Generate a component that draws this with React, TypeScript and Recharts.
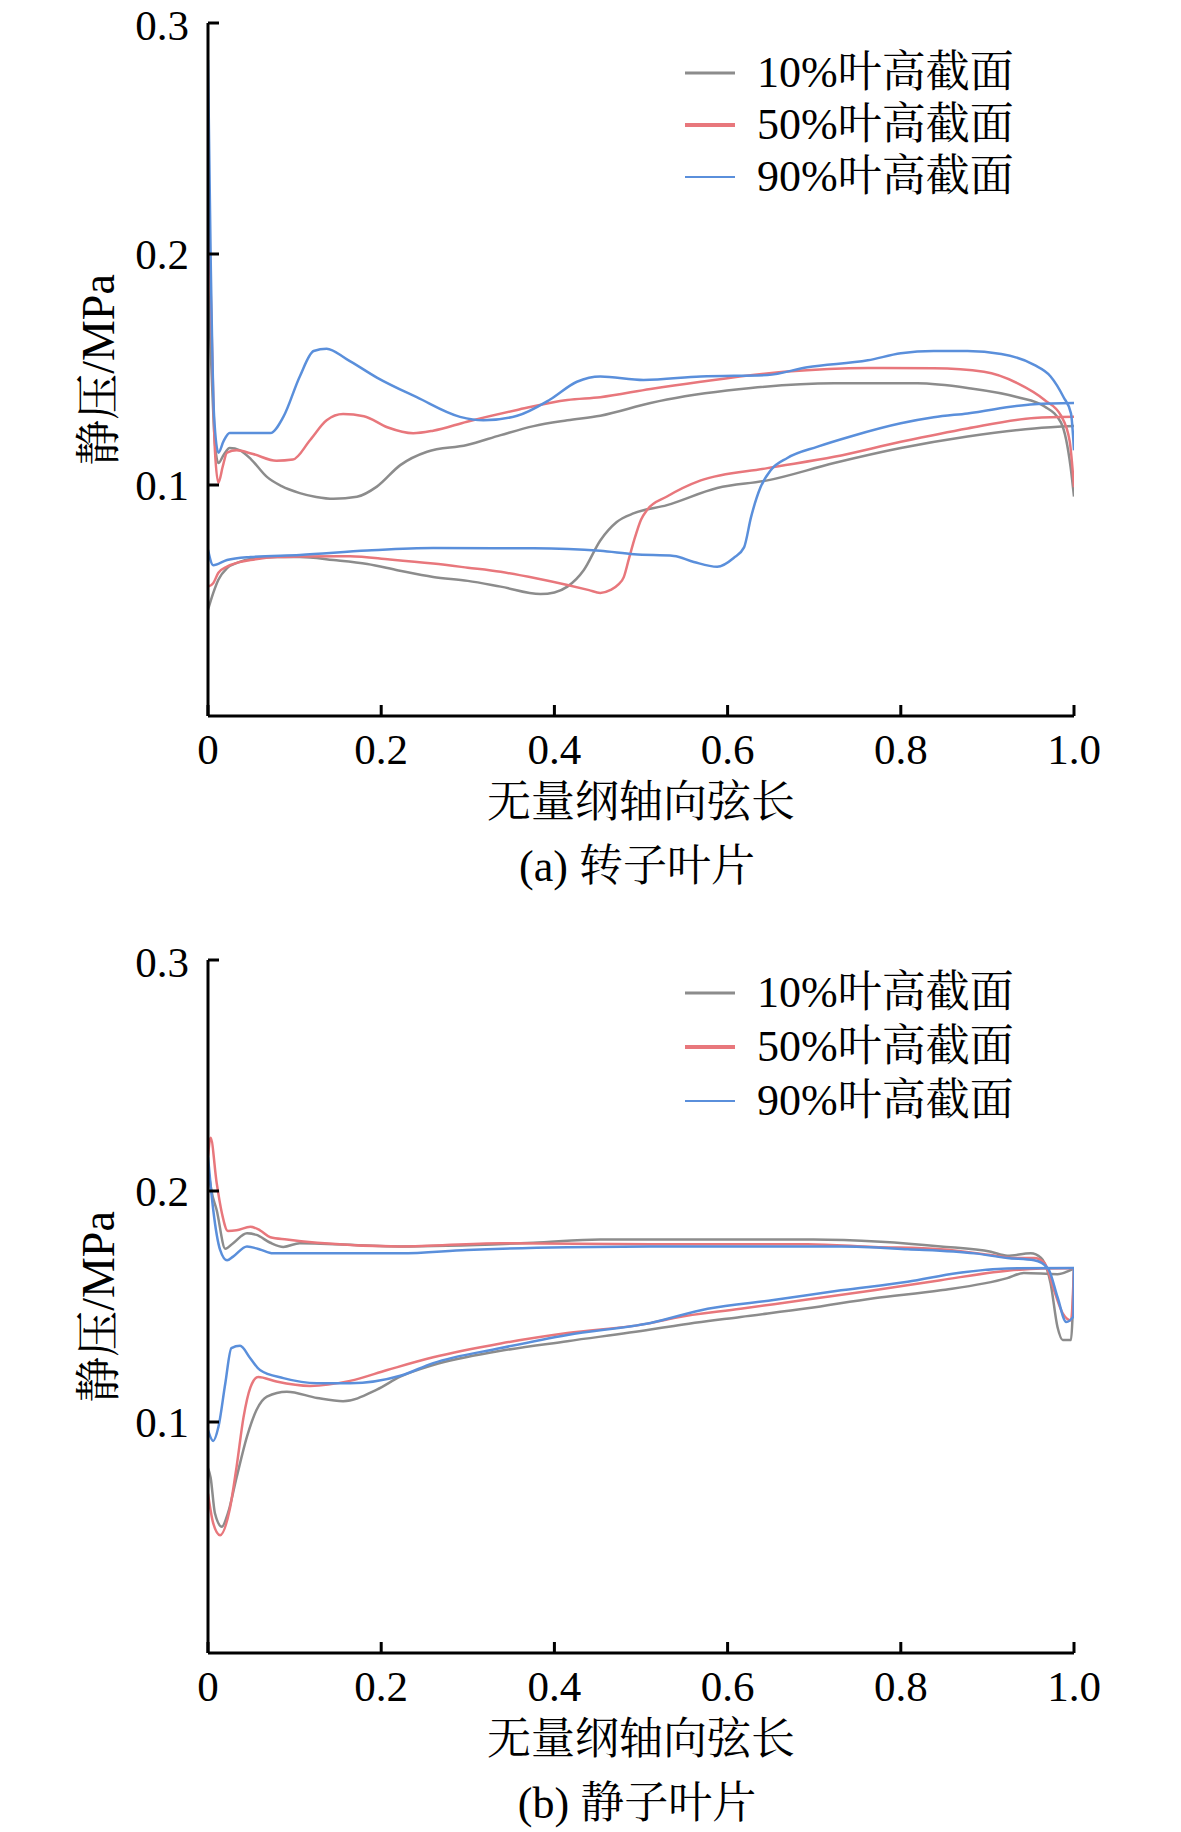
import React from "react";
import { LineChart, Line, XAxis, YAxis, Legend } from "recharts";

type Pt = [number, number];

const X_TICKS = [0, 0.2, 0.4, 0.6, 0.8, 1.0];
const Y_TICKS = [0.1, 0.2, 0.3];
const SERIES_NAMES = ["10%叶高截面", "50%叶高截面", "90%叶高截面"];
const SERIES_COLORS = ["#8c8c8c", "#e8777c", "#5a8fdb"];
const LEGEND_WIDTHS = [3, 4, 2];

// (a) rotor blade, upper / lower branch of each section
const rotor10Upper: Pt[] = [
  [0, 0.19], [0.004, 0.15], [0.008, 0.118], [0.012, 0.1095], [0.018, 0.113], [0.025, 0.116],
  [0.037, 0.115], [0.05, 0.111], [0.068, 0.1035], [0.085, 0.0995], [0.106, 0.0965], [0.125, 0.0948],
  [0.145, 0.094], [0.172, 0.0949], [0.195, 0.0993], [0.222, 0.1086], [0.253, 0.1144], [0.299, 0.1173],
  [0.338, 0.1216], [0.376, 0.1255], [0.415, 0.128], [0.453, 0.13], [0.511, 0.1355], [0.53, 0.137],
  [0.627, 0.142], [0.723, 0.144], [0.819, 0.144], [0.877, 0.142], [0.935, 0.138], [0.966, 0.134],
  [0.985, 0.127], [0.991, 0.1195], [0.996, 0.108], [1.0, 0.095],
];
const rotor10Lower: Pt[] = [
  [0, 0.046], [0.006, 0.0532], [0.012, 0.059], [0.022, 0.064], [0.035, 0.0665], [0.049, 0.068],
  [0.08, 0.0688], [0.106, 0.0688], [0.145, 0.0675], [0.184, 0.0658], [0.22, 0.063], [0.26, 0.0602],
  [0.3, 0.0585], [0.338, 0.056], [0.384, 0.0528], [0.4, 0.0535], [0.415, 0.056], [0.434, 0.0632],
  [0.453, 0.076], [0.472, 0.084], [0.492, 0.0878], [0.53, 0.0913], [0.588, 0.0987], [0.646, 0.102],
  [0.723, 0.1095], [0.8, 0.116], [0.877, 0.121], [0.954, 0.1245], [1.0, 0.1255],
];
const rotor50Upper: Pt[] = [
  [0, 0.232], [0.004, 0.17], [0.008, 0.115], [0.012, 0.101], [0.017, 0.108], [0.022, 0.114],
  [0.033, 0.115], [0.052, 0.1134], [0.079, 0.1105], [0.098, 0.111], [0.118, 0.1195], [0.137, 0.128],
  [0.156, 0.1307], [0.18, 0.1298], [0.207, 0.125], [0.237, 0.1224], [0.26, 0.1235], [0.299, 0.1274],
  [0.357, 0.1325], [0.415, 0.1368], [0.453, 0.138], [0.511, 0.1416], [0.569, 0.1447], [0.665, 0.149],
  [0.762, 0.1507], [0.838, 0.1505], [0.896, 0.149], [0.935, 0.144], [0.966, 0.1368], [0.985, 0.13],
  [0.995, 0.119], [1.0, 0.099],
];
const rotor50Lower: Pt[] = [
  [0, 0.056], [0.006, 0.0575], [0.012, 0.062], [0.022, 0.0647], [0.035, 0.0665], [0.049, 0.0675],
  [0.08, 0.0688], [0.106, 0.069], [0.164, 0.0692], [0.21, 0.0678], [0.26, 0.066], [0.3, 0.0642],
  [0.338, 0.0624], [0.38, 0.0595], [0.415, 0.0567], [0.44, 0.0545], [0.453, 0.0533], [0.465, 0.0546],
  [0.474, 0.057], [0.48, 0.06], [0.486, 0.068], [0.492, 0.076], [0.5, 0.085], [0.507, 0.0892],
  [0.53, 0.095], [0.569, 0.102], [0.646, 0.1073], [0.723, 0.1122], [0.8, 0.1187], [0.877, 0.1245],
  [0.954, 0.129], [1.0, 0.1295],
];
const rotor90Upper: Pt[] = [
  [0, 0.284], [0.003, 0.2], [0.007, 0.13], [0.012, 0.114], [0.018, 0.119], [0.025, 0.1225],
  [0.05, 0.1225], [0.072, 0.1225], [0.087, 0.1295], [0.106, 0.147], [0.122, 0.158], [0.137, 0.159],
  [0.16, 0.1545], [0.195, 0.1465], [0.241, 0.138], [0.291, 0.1295], [0.318, 0.128], [0.357, 0.13],
  [0.395, 0.137], [0.426, 0.1447], [0.453, 0.147], [0.503, 0.1455], [0.569, 0.147], [0.646, 0.1476],
  [0.692, 0.151], [0.762, 0.154], [0.8, 0.157], [0.838, 0.158], [0.877, 0.158], [0.916, 0.1567],
  [0.954, 0.152], [0.973, 0.147], [0.988, 0.138], [0.9965, 0.131], [1.0, 0.115],
];
const rotor90Lower: Pt[] = [
  [0, 0.072], [0.006, 0.0653], [0.022, 0.0675], [0.049, 0.0688], [0.106, 0.0697], [0.184, 0.0716],
  [0.26, 0.0727], [0.376, 0.0726], [0.453, 0.0715], [0.492, 0.07], [0.538, 0.0693], [0.561, 0.0667],
  [0.588, 0.0646], [0.607, 0.0684], [0.619, 0.073], [0.627, 0.086], [0.638, 0.099], [0.65, 0.1065],
  [0.669, 0.1117], [0.704, 0.1166], [0.742, 0.121], [0.8, 0.1267], [0.838, 0.1293], [0.877, 0.131],
  [0.954, 0.135], [1.0, 0.1355],
];

// (b) stator blade
const stator10Upper: Pt[] = [
  [0, 0.21], [0.004, 0.2], [0.01, 0.1918], [0.02, 0.175], [0.029, 0.1774], [0.045, 0.1817],
  [0.056, 0.181], [0.072, 0.1776], [0.087, 0.1758], [0.106, 0.1774], [0.222, 0.176], [0.376, 0.1776],
  [0.453, 0.179], [0.699, 0.179], [0.777, 0.178], [0.846, 0.176], [0.904, 0.1737], [0.923, 0.172],
  [0.95, 0.173], [0.962, 0.171], [0.973, 0.16], [0.981, 0.141], [0.987, 0.1355], [0.9965, 0.1355],
  [1.0, 0.1665],
];
const stator10Lower: Pt[] = [
  [0, 0.08], [0.003, 0.076], [0.008, 0.0605], [0.016, 0.0547], [0.023, 0.0605], [0.033, 0.076],
  [0.045, 0.0937], [0.056, 0.1052], [0.068, 0.111], [0.091, 0.1131], [0.126, 0.1104], [0.156, 0.109],
  [0.195, 0.114], [0.222, 0.1196], [0.26, 0.1246], [0.338, 0.1308], [0.415, 0.135], [0.511, 0.14],
  [0.538, 0.1416], [0.615, 0.1455], [0.692, 0.1492], [0.769, 0.1536], [0.846, 0.157], [0.923, 0.1623],
  [0.942, 0.1645], [0.981, 0.164], [1.0, 0.1665],
];
const stator50Upper: Pt[] = [
  [0, 0.215], [0.003, 0.223], [0.01, 0.2035], [0.016, 0.1905], [0.023, 0.1827], [0.033, 0.183],
  [0.049, 0.1845], [0.06, 0.183], [0.072, 0.18], [0.091, 0.179], [0.126, 0.1776], [0.222, 0.176],
  [0.338, 0.1774], [0.511, 0.177], [0.692, 0.177], [0.769, 0.1758], [0.846, 0.1748], [0.904, 0.1723],
  [0.931, 0.171], [0.954, 0.171], [0.966, 0.1688], [0.977, 0.157], [0.987, 0.147], [0.9965, 0.144],
  [1.0, 0.167],
];
const stator50Lower: Pt[] = [
  [0, 0.069], [0.006, 0.0562], [0.014, 0.051], [0.025, 0.062], [0.033, 0.0806], [0.041, 0.102],
  [0.049, 0.115], [0.058, 0.1195], [0.079, 0.1175], [0.118, 0.1156], [0.164, 0.1178], [0.207, 0.1225],
  [0.26, 0.128], [0.338, 0.134], [0.415, 0.1385], [0.511, 0.1428], [0.538, 0.145], [0.615, 0.149],
  [0.692, 0.153], [0.769, 0.157], [0.846, 0.1614], [0.923, 0.1655], [0.962, 0.1665], [1.0, 0.1666],
];
const stator90Upper: Pt[] = [
  [0, 0.2148], [0.006, 0.192], [0.014, 0.1745], [0.022, 0.17], [0.029, 0.1716], [0.045, 0.176],
  [0.06, 0.1747], [0.075, 0.173], [0.222, 0.173], [0.299, 0.1745], [0.415, 0.1757], [0.511, 0.176],
  [0.731, 0.176], [0.808, 0.1748], [0.885, 0.173], [0.923, 0.171], [0.954, 0.17], [0.97, 0.1665],
  [0.981, 0.154], [0.991, 0.1433], [0.999, 0.1455], [1.0, 0.1667],
];
const stator90Lower: Pt[] = [
  [0, 0.0965], [0.006, 0.0918], [0.012, 0.0978], [0.02, 0.1168], [0.027, 0.132], [0.037, 0.133],
  [0.049, 0.1275], [0.06, 0.1225], [0.087, 0.119], [0.126, 0.1168], [0.164, 0.1168], [0.222, 0.12],
  [0.26, 0.1255], [0.338, 0.132], [0.415, 0.1377], [0.511, 0.1429], [0.577, 0.149], [0.653, 0.1528],
  [0.731, 0.157], [0.808, 0.1607], [0.866, 0.1645], [0.923, 0.1665], [1.0, 0.1667],
];

const ROTOR_CURVES = [
  [rotor10Upper, rotor10Lower],
  [rotor50Upper, rotor50Lower],
  [rotor90Upper, rotor90Lower],
];
const STATOR_CURVES = [
  [stator10Upper, stator10Lower],
  [stator50Upper, stator50Lower],
  [stator90Upper, stator90Lower],
];

const FONT = '"Liberation Serif", "Times New Roman", "Noto Serif CJK SC", "Noto Sans CJK SC", serif';
const TICK_FS = 43;
const TEXT_FS = 44;

const toRows = (pts: Pt[]) => pts.map(([x, y]) => ({ x, y }));

const LegendBox = ({ rowH }: { rowH: number }) => (
  <div style={{ fontFamily: FONT }}>
    {SERIES_NAMES.map((name, i) => (
      <div key={name} style={{ display: "flex", alignItems: "center", height: rowH }}>
        <svg width={50} height={6} style={{ display: "block" }}>
          <line x1={0} x2={50} y1={3} y2={3} stroke={SERIES_COLORS[i]} strokeWidth={LEGEND_WIDTHS[i]} />
        </svg>
        <span style={{ marginLeft: 22, fontSize: TEXT_FS, lineHeight: 1, color: "#000", whiteSpace: "nowrap" }}>
          {name}
        </span>
      </div>
    ))}
  </div>
);

interface PanelProps {
  top: number;
  curves: Pt[][][];
  legendTop: number;
  legendRow: number;
  caption: string;
}

const textCenter = (x: number, y: number, size = TEXT_FS): React.CSSProperties => ({
  position: "absolute",
  left: x,
  top: y,
  transform: "translate(-50%, -50%)",
  fontFamily: FONT,
  fontSize: size,
  lineHeight: 1,
  whiteSpace: "nowrap",
  color: "#000",
});

const Panel = ({ top, curves, legendTop, legendRow, caption }: PanelProps) => (
  <>
    <div style={{ position: "absolute", left: 0, top }}>
      <LineChart width={1181} height={776} margin={{ top: 23, right: 107, bottom: 0, left: 88 }}>
        <XAxis
          type="number"
          dataKey="x"
          domain={[0, 1]}
          ticks={X_TICKS}
          allowDataOverflow
          height={60}
          tickSize={-11}
          tickMargin={28}
          axisLine={{ stroke: "#000", strokeWidth: 3 }}
          tickLine={{ stroke: "#000", strokeWidth: 3 }}
          tick={{ fill: "#000", fontSize: TICK_FS, fontFamily: FONT }}
          tickFormatter={(v: number) => (v === 0 ? "0" : v.toFixed(1))}
        />
        <YAxis
          type="number"
          dataKey="y"
          domain={[0, 0.3]}
          ticks={Y_TICKS}
          allowDataOverflow
          width={120}
          tickSize={-11}
          tickMargin={30}
          axisLine={{ stroke: "#000", strokeWidth: 3 }}
          tickLine={{ stroke: "#000", strokeWidth: 3 }}
          tick={{ fill: "#000", fontSize: TICK_FS, fontFamily: FONT }}
          tickFormatter={(v: number) => v.toFixed(1)}
        />
        {curves.map((pair, i) =>
          pair.map((pts, j) => (
            <Line
              key={`${i}-${j}`}
              data={toRows(pts)}
              dataKey="y"
              type="monotone"
              stroke={SERIES_COLORS[i]}
              strokeWidth={2.5}
              dot={false}
              activeDot={false}
              legendType="none"
              isAnimationActive={false}
            />
          ))
        )}
        <Legend
          layout="horizontal"
          align="center"
          verticalAlign="middle"
          content={() => <LegendBox rowH={legendRow} />}
          wrapperStyle={{ top: legendTop, left: 685, width: 380 }}
        />
      </LineChart>
    </div>
    <div
      style={{
        ...textCenter(99, top + 369.5, 46),
        transform: "translate(-50%, -50%) rotate(-90deg)",
      }}
    >
      静压/MPa
    </div>
    <div style={textCenter(641, top + 803)}>无量纲轴向弦长</div>
    <div style={textCenter(637, top + 867)}>{caption}</div>
  </>
);

export default function App() {
  return (
    <div
      style={{
        position: "absolute",
        left: 0,
        top: 0,
        width: 1181,
        height: 1832,
        background: "#fff",
        overflow: "hidden",
      }}
    >
      <Panel top={0} curves={ROTOR_CURVES} legendTop={47} legendRow={52} caption="(a) 转子叶片" />
      <Panel top={937} curves={STATOR_CURVES} legendTop={29} legendRow={54} caption="(b) 静子叶片" />
    </div>
  );
}
